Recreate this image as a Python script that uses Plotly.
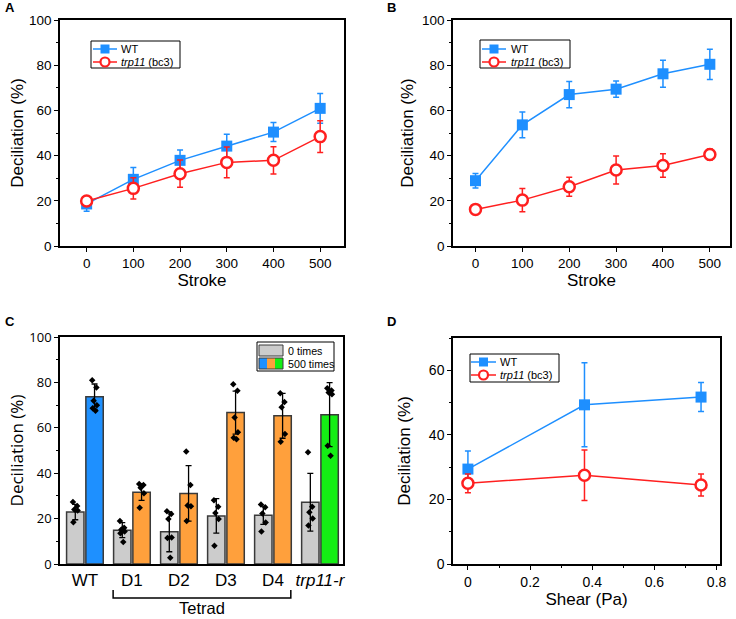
import plotly.graph_objects as go

# ---------------- data ----------------
# Panel A
strokes = [0, 100, 200, 300, 400, 500]
a_wt = [18.6, 29.5, 37.9, 44.2, 50.4, 60.9]
a_wt_err = [3.2, 5.2, 4.6, 5.3, 4.2, 6.6]
a_trp = [19.9, 25.5, 32.0, 37.0, 37.9, 48.4]
a_trp_err = [1.6, 4.7, 6.0, 6.8, 6.0, 7.0]

# Panel B
b_wt = [28.9, 53.6, 67.0, 69.4, 76.2, 80.4]
b_wt_err = [3.2, 5.7, 5.8, 3.6, 6.0, 6.7]
b_trp = [16.2, 20.3, 26.2, 33.6, 35.6, 40.5]
b_trp_err = [1.0, 5.1, 4.2, 6.2, 5.2, 2.4]

# Panel C
categories = ["WT", "D1", "D2", "D3", "D4", "<i>trp11-r</i>"]
c_0 = [22.9, 14.9, 14.2, 21.2, 21.5, 27.2]
c_0_err = [3.4, 3.3, 8.8, 7.6, 4.0, 12.7]
c_500 = [73.7, 31.6, 31.1, 66.7, 65.3, 65.8]
c_500_err = [5.6, 3.6, 12.2, 9.5, 9.9, 14.1]
c_0_pts = [
    [27.3, 25.5, 24.0, 23.6, 18.4],
    [18.9, 16.0, 15.2, 14.3, 13.6, 9.7],
    [23.2, 22.0, 19.8, 11.7, 11.4, 2.8],
    [28.1, 25.2, 22.5, 19.8, 8.0],
    [26.2, 25.0, 22.3, 18.3, 14.3],
    [49.2, 25.2, 22.8, 20.0, 17.0],
]
c_500_pts = [
    [81.0, 77.8, 71.9, 69.9, 68.6, 67.5],
    [35.2, 34.8, 33.6, 31.2, 24.8],
    [49.6, 34.8, 25.8, 25.4, 18.9],
    [79.2, 76.3, 64.5, 58.0, 55.6, 55.0],
    [75.2, 71.4, 69.0, 57.3, 53.9],
    [77.4, 76.4, 75.6, 74.8, 52.1, 47.7],
]

# Panel D
shear = [0.0, 0.375, 0.75]
d_wt = [29.4, 49.3, 51.7]
d_wt_err = [5.6, 13.0, 4.5]
d_trp = [25.0, 27.5, 24.5]
d_trp_err = [2.9, 7.8, 3.4]

# ---------------- style ----------------
BLUE = "#1E8FFF"
RED = "#FF1F1F"
GRAY = "#CCCCCC"
BAR_COLORS = ["#1E90FF", "#FFA03C", "#FFA03C", "#FFA03C", "#FFA03C", "#14EE14"]
ARIAL = "Liberation Sans, Arial, sans-serif"
SEGOE = "Open Sans, Liberation Sans, sans-serif"
JITTER = [-0.05, 0.04, -0.02, 0.05, -0.04, 0.02]
W, H = 736, 619


def px_x(v):
    return v / W


def px_y(v):
    return 1 - v / H


fig = go.Figure()


def line_pair(x, wt, wte, trp, trpe, xa, ya):
    fig.add_trace(go.Scatter(
        x=x, y=wt, name="WT", mode="lines+markers",
        line=dict(color=BLUE, width=1.5),
        marker=dict(symbol="square", size=11, color=BLUE),
        error_y=dict(type="data", array=wte, color=BLUE, thickness=1.5, width=3),
        xaxis=xa, yaxis=ya, showlegend=False))
    fig.add_trace(go.Scatter(
        x=x, y=trp, name="trp11 (bc3)", mode="lines+markers",
        line=dict(color=RED, width=1.5),
        marker=dict(symbol="circle", size=11, color="white",
                    line=dict(color=RED, width=2.5)),
        error_y=dict(type="data", array=trpe, color=RED, thickness=1.5, width=3),
        xaxis=xa, yaxis=ya, showlegend=False))


line_pair(strokes, a_wt, a_wt_err, a_trp, a_trp_err, "x", "y")
line_pair(strokes, b_wt, b_wt_err, b_trp, b_trp_err, "x2", "y2")
line_pair(shear, d_wt, d_wt_err, d_trp, d_trp_err, "x4", "y4")

# Panel C bars
idx = list(range(len(categories)))
fig.add_trace(go.Bar(
    x=idx, y=c_0, offset=-0.39, width=0.37, name="0 times",
    marker=dict(color=GRAY, line=dict(color="#3A3A3A", width=1.5)),
    error_y=dict(type="data", array=c_0_err, color="black", thickness=1.3, width=3),
    xaxis="x3", yaxis="y3", showlegend=False))
fig.add_trace(go.Bar(
    x=idx, y=c_500, offset=0.02, width=0.37, name="500 times",
    marker=dict(color=BAR_COLORS, line=dict(color="#3A3A3A", width=1.5)),
    error_y=dict(type="data", array=c_500_err, color="black", thickness=1.3, width=3),
    xaxis="x3", yaxis="y3", showlegend=False))

for side, pts_all in ((-0.205, c_0_pts), (0.205, c_500_pts)):
    xs, ys = [], []
    for i, pts in enumerate(pts_all):
        for k, v in enumerate(pts):
            xs.append(i + side + JITTER[k % len(JITTER)])
            ys.append(v)
    fig.add_trace(go.Scatter(
        x=xs, y=ys, mode="markers",
        marker=dict(symbol="diamond", size=5, color="black"),
        xaxis="x3", yaxis="y3", showlegend=False))

# ---------------- axes ----------------
def axis(**kw):
    base = dict(showline=True, linecolor="black", linewidth=1.5, mirror=True,
                ticks="outside", ticklen=4, tickwidth=1.2, tickcolor="black",
                showgrid=False, zeroline=False, automargin=False,
                tickfont=dict(family=ARIAL, size=13.5, color="black"),
                title_font=dict(family=ARIAL, size=17, color="black"))
    base.update(kw)
    return base


ydom_top = [px_y(246), px_y(20)]
ydom_bot = [px_y(564), px_y(337)]
minor10 = dict(ticks="outside", ticklen=2.5, dtick=10, tickcolor="black")

fig.update_layout(
    template="none",
    width=W, height=H,
    margin=dict(l=0, r=0, t=0, b=0),
    paper_bgcolor="white", plot_bgcolor="white",
    showlegend=False,
    xaxis=axis(domain=[px_x(60), px_x(344)], range=[-57, 551], tickvals=strokes,
               title=dict(text="Stroke", standoff=4), anchor="y"),
    yaxis=axis(domain=ydom_top, range=[0, 100], dtick=20, minor=minor10,
               title=dict(text="Deciliation (%)", standoff=1), anchor="x"),
    xaxis2=axis(domain=[px_x(453), px_x(730)], range=[-48, 543], tickvals=strokes,
                title=dict(text="Stroke", standoff=4), anchor="y2"),
    yaxis2=axis(domain=ydom_top, range=[0, 100], dtick=20, minor=minor10,
                title=dict(text="Deciliation (%)", standoff=4), anchor="x2"),
    xaxis3=axis(domain=[px_x(60), px_x(343)], range=[-0.53, 5.49],
                tickvals=idx, ticktext=categories, ticks="",
                tickfont=dict(family=ARIAL, size=17, color="black"), anchor="y3"),
    yaxis3=axis(domain=ydom_bot, range=[0, 100], dtick=20, minor=minor10,
                tickfont=dict(family=SEGOE, size=13, color="black"),
                title=dict(text="Deciliation (%)", standoff=1,
                           font=dict(family=SEGOE, size=17, color="black")),
                anchor="x3"),
    xaxis4=axis(domain=[px_x(453), px_x(720)], range=[-0.048, 0.811],
                tickvals=[0, 0.2, 0.4, 0.6, 0.8], ticktext=["0", "0.2", "0.4", "0.6", "0.8"],
                tickfont=dict(family=ARIAL, size=14, color="black"),
                minor=dict(ticks="outside", ticklen=2.5, dtick=0.1, tickcolor="black"),
                title=dict(text="Shear (Pa)", standoff=4), anchor="y4"),
    yaxis4=axis(domain=[px_y(564), px_y(338)], range=[0, 70], dtick=20, minor=minor10,
                tickfont=dict(family=ARIAL, size=14, color="black"),
                title=dict(text="Deciliation (%)", standoff=14), anchor="x4"),
)

shapes = []
ann = []


def rect(x0, x1, y0, y1, fill, line_color=None, lw=1):
    return dict(type="rect", xref="paper", yref="paper",
                x0=px_x(x0), x1=px_x(x1), y0=px_y(y1), y1=px_y(y0),
                line=dict(color=line_color or "rgba(0,0,0,0)", width=lw if line_color else 0),
                fillcolor=fill)


def text(t, x, y, size=11, family=ARIAL, anchor="left"):
    return dict(text=t, x=px_x(x), y=px_y(y), xref="paper", yref="paper",
                xanchor=anchor, yanchor="middle", showarrow=False,
                font=dict(family=family, size=size, color="black"))


# custom line legends (A, B, D)
def line_legend(bx0, bx1, by0, by1, lx0, lx1, tx, r1, r2):
    shapes.append(rect(bx0, bx1, by0, by1, "white", "black", 1))
    mx = (lx0 + lx1) / 2
    shapes.append(dict(type="line", xref="paper", yref="paper",
                       x0=px_x(lx0), x1=px_x(lx1), y0=px_y(r1), y1=px_y(r1),
                       line=dict(color=BLUE, width=1.5)))
    shapes.append(rect(mx - 4.5, mx + 4.5, r1 - 4.5, r1 + 4.5, BLUE))
    shapes.append(dict(type="line", xref="paper", yref="paper",
                       x0=px_x(lx0), x1=px_x(lx1), y0=px_y(r2), y1=px_y(r2),
                       line=dict(color=RED, width=1.5)))
    shapes.append(dict(type="circle", xref="paper", yref="paper",
                       x0=px_x(mx - 4.5), x1=px_x(mx + 4.5),
                       y0=px_y(r2 + 4.5), y1=px_y(r2 - 4.5),
                       line=dict(color=RED, width=2.2), fillcolor="white"))
    ann.append(text("WT", tx, r1))
    ann.append(text("<i>trp11</i> (bc3)", tx, r2))


line_legend(91, 180, 41, 68, 93, 117, 119, 49, 62)
line_legend(480, 570, 40, 68, 482, 506, 509, 49, 62)
line_legend(470, 559, 354, 382, 471, 496, 498, 362, 375)

# Panel C custom legend
shapes.append(rect(257, 334, 342, 371, "white", "black", 1))
shapes.append(rect(259, 283, 345, 356, GRAY, "#3A3A3A", 1))
for j, col in enumerate(["#1E90FF", "#FFA03C", "#14EE14"]):
    shapes.append(rect(259 + 8 * j, 259 + 8 * (j + 1), 358, 369, col))
shapes.append(rect(259, 283, 358, 369, "rgba(0,0,0,0)", "#3A3A3A", 1))
ann.append(text("0 times", 286, 351, size=10.7))
ann.append(text("500 times", 286, 364, size=10.7))

# Tetrad bracket
shapes.append(dict(type="path", xref="x3", yref="paper",
                   path=f"M 0.6,{px_y(590)} L 0.6,{px_y(598)} L 4.38,{px_y(598)} L 4.38,{px_y(590)}",
                   line=dict(color="black", width=1.5)))
ann.append(dict(text="Tetrad", x=2.49, y=px_y(608), xref="x3", yref="paper",
                xanchor="center", yanchor="middle", showarrow=False,
                font=dict(family=ARIAL, size=16.5, color="black")))

for lab, (lx, ly) in zip("ABCD", [(3, 8), (385, 8), (3, 321), (385, 321)]):
    ann.append(text(f"<b>{lab}</b>", lx, ly, size=13))

fig.update_layout(shapes=shapes, annotations=ann)

fig.write_html("out.html",
               config={"displayModeBar": False},
               post_script="document.body.style.margin='0';document.body.style.overflow='hidden';")
